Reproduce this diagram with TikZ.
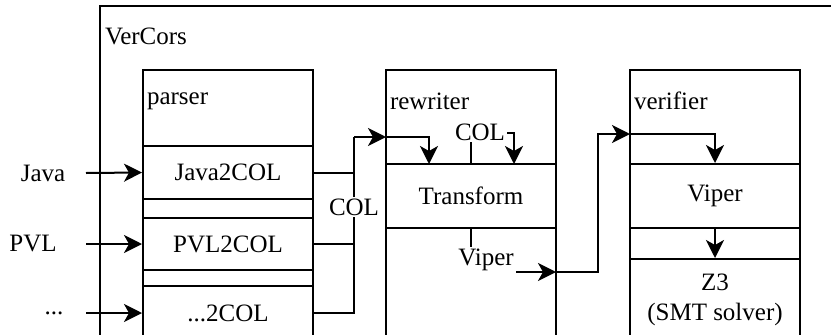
\documentclass[tikz,border=0pt]{standalone}
\usepackage{fontspec}
\setmainfont{Liberation Serif}
\usetikzlibrary{arrows.meta}

\begin{document}
\begin{tikzpicture}[
    x=1pt, y=-1pt,
    line width=2pt,
    font=\fontsize{25}{30}\selectfont,
    frame/.style={rectangle, draw, minimum width=170pt, minimum height=290pt, inner sep=0pt},
    box/.style={rectangle, draw, minimum width=170pt, inner sep=0pt, align=center},
    txt/.style={inner sep=2pt, anchor=west},
    tag/.style={fill=white, inner sep=2pt},
    arrow/.style={-{Stealth[length=18pt, width=18pt, inset=5pt]}}
]
    \useasboundingbox (0,0) rectangle (831,335);
    \clip (0,0) rectangle (831,335);

    % Outer tool
    \node[rectangle, draw, minimum width=740pt, minimum height=340pt] (vercors) at (470,176) {};
    \node[txt] (vercorslbl) at (102,36) {VerCors};

    % Parser stage
    \node[frame] (parser) at (228,215) {};
    \node[txt] (parserlbl) at (144,101) {parser};
    \node[box, minimum height=53pt] (java2col) at (228,172.5) {Java2COL};
    \node[box, minimum height=52pt] (pvl2col) at (228,244) {PVL2COL};
    \node[box, minimum height=54pt] (other2col) at (228,313) {...2COL};

    % Rewriter stage
    \node[frame] (rewriter) at (471,215) {};
    \node[txt] (rewriterlbl) at (387,101) {rewriter};
    \node[box, minimum height=64pt] (transform) at (471,196) {Transform};

    % Verifier stage
    \node[frame] (verifier) at (715,215) {};
    \node[txt] (verifierlbl) at (631,101) {verifier};
    \node[box, minimum height=64pt] (viper) at (715,196) {Viper};
    \node[box, minimum height=82pt] (z3) at (715,300) {Z3\\(SMT solver)};

    % Inputs
    \node (java) at (43,173) {Java};
    \node (pvl) at (33,244) {PVL};
    \node (dots) at (54,313) {...};
    \coordinate (javain) at (86,173);
    \coordinate (pvlin) at (86,244);
    \coordinate (dotsin) at (86,313);
    \draw[arrow] (javain) -- (java2col.west);
    \draw[arrow] (pvlin) -- (pvl2col.west);
    \draw[arrow] (dotsin) -- (other2col.west);

    % COL into the rewriter
    \coordinate (merge) at (354,137);
    \coordinate (colin) at (386,137);
    \draw (java2col.east) -| (merge);
    \draw (pvl2col.east) -| (merge);
    \draw (other2col.east) -| (merge);
    \node[tag] (col) at (354,207) {COL};
    \draw[arrow] (merge) -- (colin);
    \draw[arrow] (colin) -| (429,164);

    % Transform loop
    \draw[arrow] (transform.north) -- (471,133) -| (514,164);
    \node[tag] (colloop) at (480,132) {COL};

    % Viper out of the rewriter
    \coordinate (viperout) at (556,272);
    \coordinate (viperin) at (630,134);
    \draw[arrow] (transform.south) |- (viperout);
    \node[tag] (viperlbl) at (486,260) {Viper};
    \draw[arrow] (viperout) -- (598,272) |- (viperin);
    \draw[arrow] (viperin) -| (viper.north);
    \draw[arrow] (viper.south) -- (z3.north);

\end{tikzpicture}
\end{document}
